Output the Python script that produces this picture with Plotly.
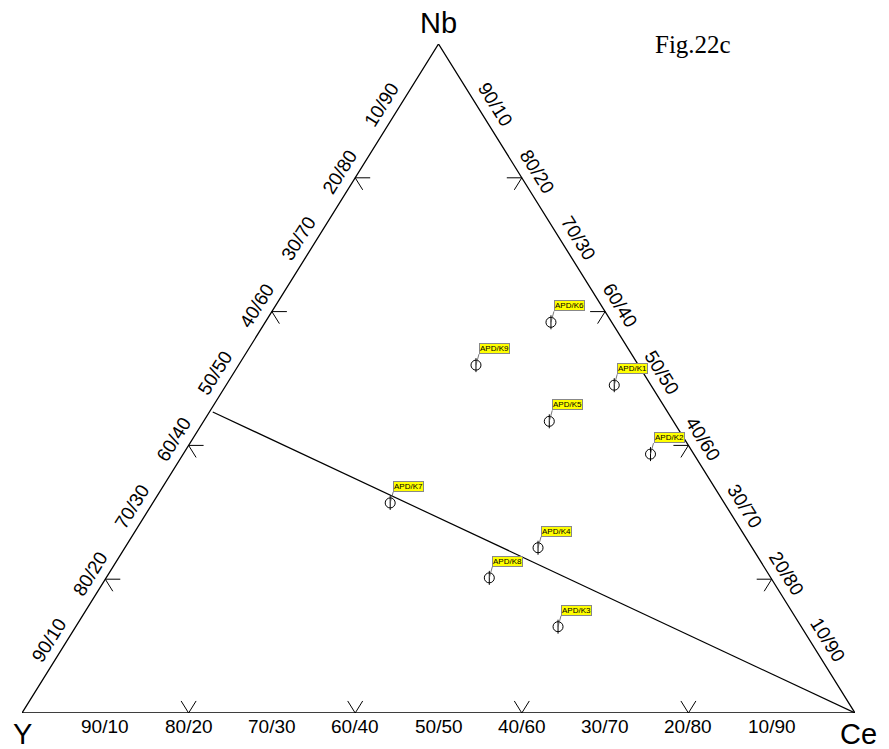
import plotly.graph_objects as go

# Sample compositions (fractions): Y, Nb, Ce
samples = ["APD/K6", "APD/K9", "APD/K1", "APD/K5", "APD/K2", "APD/K7", "APD/K4", "APD/K8", "APD/K3"]
nb_vals = [0.584, 0.520, 0.490, 0.436, 0.387, 0.314, 0.247, 0.202, 0.129]
ce_vals = [0.343, 0.285, 0.466, 0.415, 0.561, 0.285, 0.496, 0.460, 0.579]
y_vals = [round(1 - n - c, 3) for n, c in zip(nb_vals, ce_vals)]

# Dividing line endpoints (Nb, Ce)
line_nb = [0.45, 0.0]
line_ce = [0.004, 1.0]

tick_fracs = [0.2, 0.4, 0.6, 0.8]
label_fracs = [0.1, 0.2, 0.3, 0.4, 0.5, 0.6, 0.7, 0.8, 0.9]
tick_len = 0.018


def xy(nb, ce):
    return ce + 0.5 * nb, nb


fig = go.Figure()

# Triangle frame
corners_nb = [0, 1, 0, 0]
corners_ce = [0, 0, 1, 0]
fx, fy = zip(*[xy(n, c) for n, c in zip(corners_nb, corners_ce)])
fig.add_trace(go.Scatter(x=fx, y=fy, mode="lines", line=dict(color="black", width=1.3),
                         hoverinfo="skip", showlegend=False))

# Tick stubs (parallel to the other two edges)
tx, ty = [], []
for f in tick_fracs:
    for dn, dc in [(tick_len, 0), (tick_len, -tick_len)]:
        a = xy(0, f); b = xy(dn, f + dc)
        tx += [a[0], b[0], None]; ty += [a[1], b[1], None]
    for dn, dc in [(0, tick_len), (-tick_len, tick_len)]:
        a = xy(f, 0); b = xy(f + dn, dc)
        tx += [a[0], b[0], None]; ty += [a[1], b[1], None]
    for dn, dc in [(0, -tick_len), (-tick_len, 0)]:
        a = xy(f, 1 - f); b = xy(f + dn, 1 - f + dc)
        tx += [a[0], b[0], None]; ty += [a[1], b[1], None]
fig.add_trace(go.Scatter(x=tx, y=ty, mode="lines", line=dict(color="black", width=1),
                         hoverinfo="skip", showlegend=False))

# Dividing line
lx, ly = zip(*[xy(n, c) for n, c in zip(line_nb, line_ce)])
fig.add_trace(go.Scatter(x=lx, y=ly, mode="lines", line=dict(color="black", width=1.2),
                         hoverinfo="skip", showlegend=False))

# Sample points
px, py = zip(*[xy(n, c) for n, c in zip(nb_vals, ce_vals)])
fig.add_trace(go.Scatter(x=px, y=py, mode="markers",
                         marker=dict(symbol="circle-open", size=10, color="black", line=dict(width=1)),
                         text=samples, customdata=list(zip(y_vals, nb_vals, ce_vals)),
                         hovertemplate="%{text}<br>Y=%{customdata[0]}<br>Nb=%{customdata[1]}<br>Ce=%{customdata[2]}<extra></extra>",
                         showlegend=False))
fig.add_trace(go.Scatter(x=px, y=py, mode="markers",
                         marker=dict(symbol="line-ns-open", size=10, color="black", line=dict(width=1)),
                         hoverinfo="skip", showlegend=False))

annotations = []
for s, x0, y0 in zip(samples, px, py):
    annotations.append(dict(x=x0, y=y0, xref="x", yref="y", text=s, showarrow=True,
                            arrowhead=0, arrowwidth=0.8, arrowcolor="#555555", ax=3, ay=-11,
                            xanchor="left", yanchor="bottom", standoff=0,
                            bgcolor="#FFFF00", bordercolor="#888888", borderwidth=1, borderpad=0,
                            font=dict(family="Arial, Liberation Sans", size=8, color="black")))

# Axis ratio labels
side_font = dict(family="Arial, Liberation Sans", size=19, color="black")
for f in label_fracs:
    a = round((1 - f) * 100); b = round(f * 100)
    bx, by = xy(0, f)
    annotations.append(dict(x=bx, y=by, xref="x", yref="y", text=f"{a}/{b}", showarrow=False,
                            yanchor="middle", yshift=-13, font=side_font))
    lx0, ly0 = xy(f, 0)
    annotations.append(dict(x=lx0, y=ly0, xref="x", yref="y", text=f"{a}/{b}", showarrow=False,
                            textangle=-58, xshift=-15, yshift=6, font=side_font))
    rx0, ry0 = xy(f, 1 - f)
    annotations.append(dict(x=rx0, y=ry0, xref="x", yref="y", text=f"{b}/{a}", showarrow=False,
                            textangle=58, xshift=15, yshift=6, font=side_font))

vert_font = dict(family="Arial, Liberation Sans", size=29, color="black")
annotations.append(dict(x=xy(1, 0)[0], y=1, xref="x", yref="y", text="Nb", showarrow=False,
                        yanchor="middle", yshift=21, font=vert_font))
annotations.append(dict(x=0, y=0, xref="x", yref="y", text="Y", showarrow=False,
                        yanchor="middle", yshift=-21, font=vert_font))
annotations.append(dict(x=1, y=0, xref="x", yref="y", text="Ce", showarrow=False,
                        yanchor="middle", yshift=-21, xshift=3, font=vert_font))
annotations.append(dict(x=0.805, y=1.0, xref="x", yref="y", text="Fig.22c", showarrow=False,
                        yanchor="middle", font=dict(family="Liberation Serif, Times New Roman", size=25, color="black")))

fig.update_layout(
    width=889, height=749,
    margin=dict(l=14, r=42, t=36, b=44),
    paper_bgcolor="white", plot_bgcolor="white",
    xaxis=dict(range=[0, 1], visible=False, fixedrange=True),
    yaxis=dict(range=[0, 1], visible=False, fixedrange=True),
    annotations=annotations,
    showlegend=False,
)

fig.write_html("out.html")
